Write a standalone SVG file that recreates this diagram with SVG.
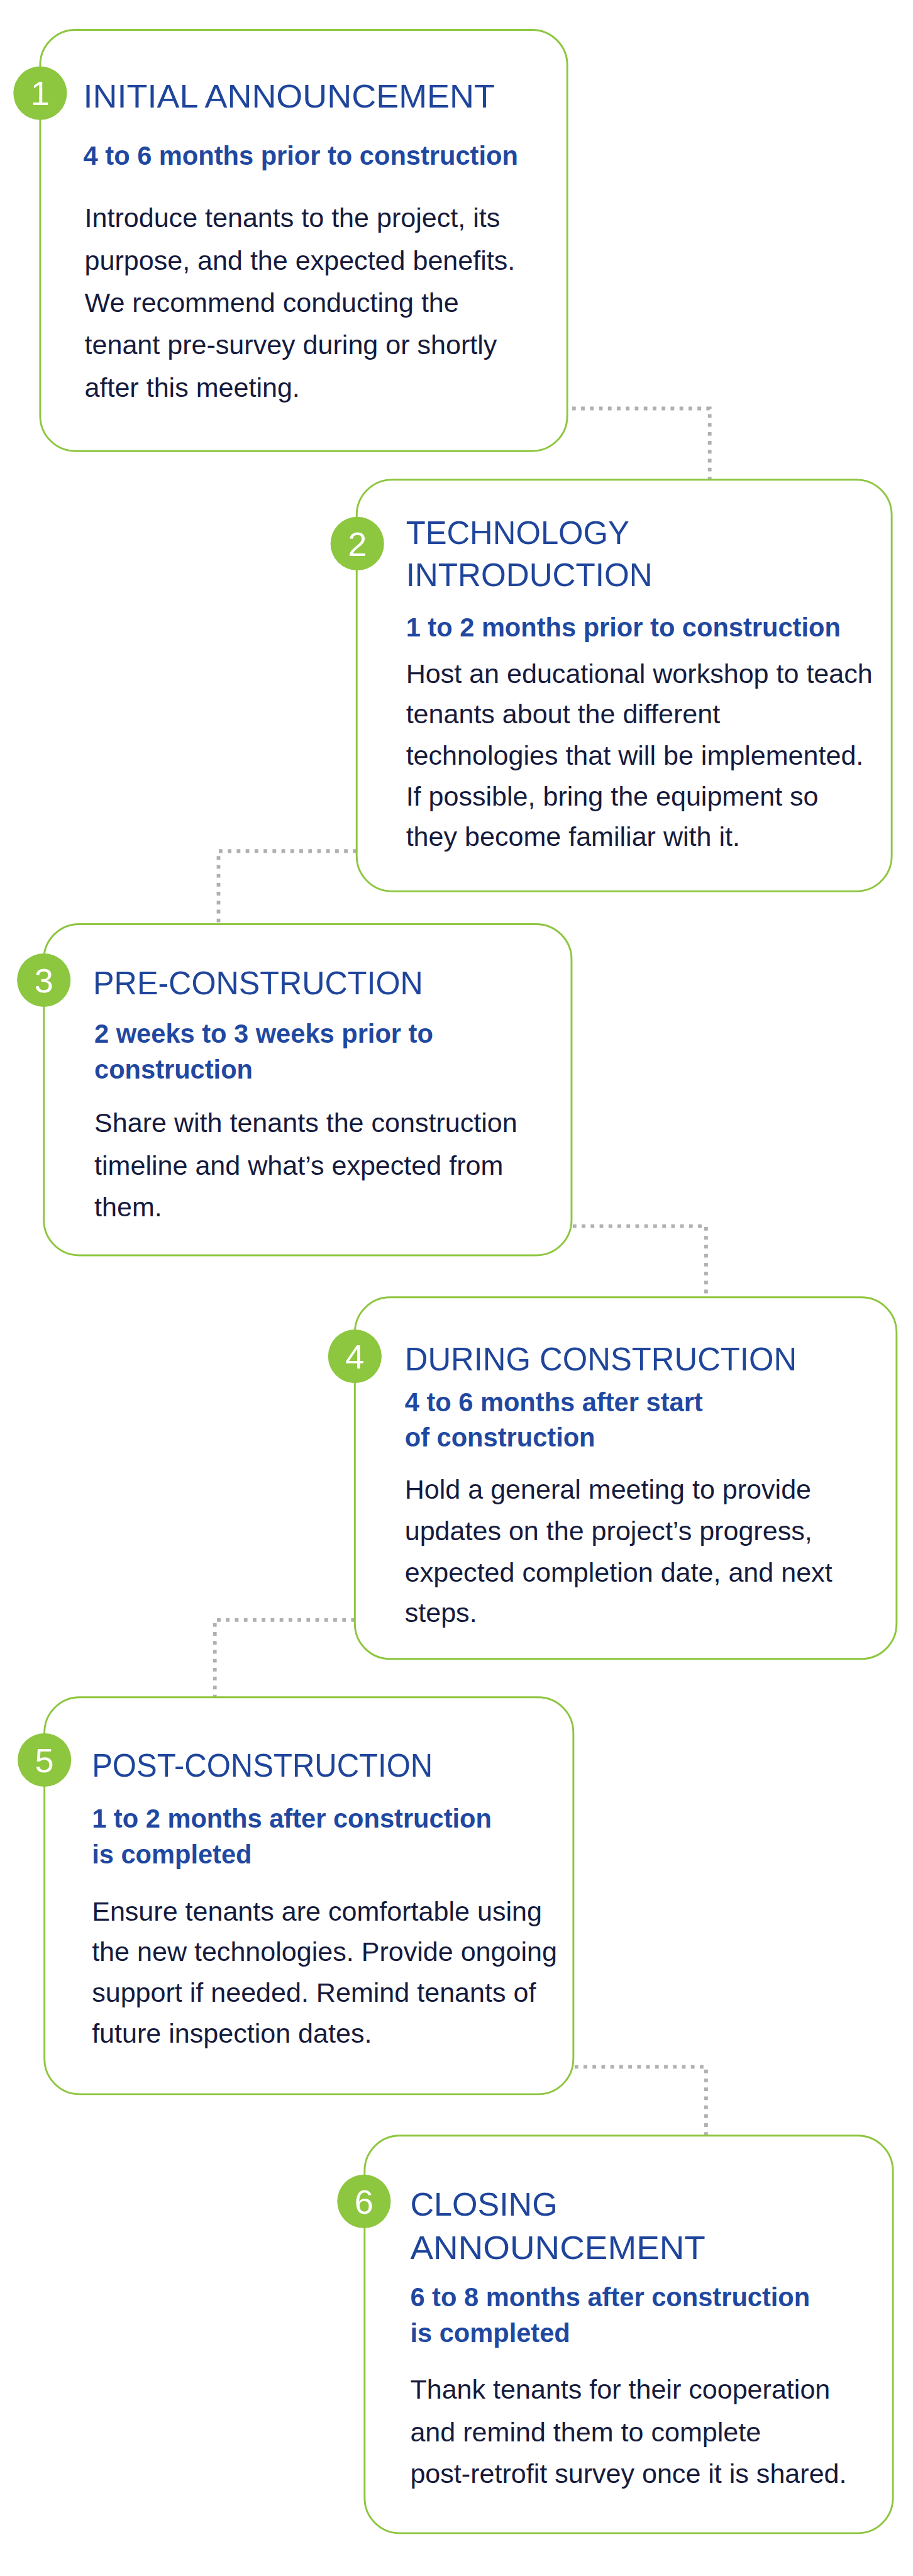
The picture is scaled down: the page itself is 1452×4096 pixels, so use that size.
<svg xmlns="http://www.w3.org/2000/svg" width="1452" height="4096" viewBox="0 0 1452 4096">
<style>
.box{fill:#ffffff;stroke:#8dc63f;stroke-width:3}
.badge{fill:#8dc63f}
.num{font-family:"Liberation Sans",Arial,sans-serif;font-size:56px;fill:#ffffff;text-anchor:middle}
.title{font-family:"Liberation Sans",Arial,sans-serif;font-size:53px;fill:#1f459b}
.sub{font-family:"Liberation Sans",Arial,sans-serif;font-size:43px;font-weight:bold;fill:#2148a0}
.body{font-family:"Liberation Sans",Arial,sans-serif;font-size:44.5px;fill:#161b3d}
.conn{fill:none;stroke:#b0b0b0;stroke-width:6;stroke-dasharray:6 8.7}
</style>
<rect x="0" y="0" width="1452" height="4096" fill="#ffffff"/>
<g transform="scale(0.968)">
<g id="connectors">
<path class="conn" d="M940 671 H1166 V788"/>
<path class="conn" d="M586 1398 H359 V1518"/>
<path class="conn" d="M941 2014 H1160 V2131"/>
<path class="conn" d="M583 2661 H353 V2788"/>
<path class="conn" d="M944 3395 H1160 V3508"/>
</g>
<g id="step1">
<rect class="box" x="66" y="49" width="866" height="692" rx="58"/>
<circle class="badge" cx="66" cy="153" r="44"/>
<text class="num" x="66" y="173">1</text>
<text class="title" x="137" y="177" textLength="676" lengthAdjust="spacingAndGlyphs">INITIAL ANNOUNCEMENT</text>
<text class="sub" x="137" y="271">4 to 6 months prior to construction</text>
<text class="body" x="139" y="373">Introduce tenants to the project, its</text>
<text class="body" x="139" y="443">purpose, and the expected benefits.</text>
<text class="body" x="139" y="512">We recommend conducting the</text>
<text class="body" x="139" y="582">tenant pre-survey during or shortly</text>
<text class="body" x="139" y="652">after this meeting.</text>
</g>
<g id="step2">
<rect class="box" x="586" y="788" width="879" height="676" rx="58"/>
<circle class="badge" cx="587" cy="893" r="44"/>
<text class="num" x="587" y="913">2</text>
<text class="title" x="667" y="894" textLength="367" lengthAdjust="spacingAndGlyphs">TECHNOLOGY</text>
<text class="title" x="667" y="963" textLength="405" lengthAdjust="spacingAndGlyphs">INTRODUCTION</text>
<text class="sub" x="667" y="1045">1 to 2 months prior to construction</text>
<text class="body" x="667" y="1122">Host an educational workshop to teach</text>
<text class="body" x="667" y="1188">tenants about the different</text>
<text class="body" x="667" y="1256">technologies that will be implemented.</text>
<text class="body" x="667" y="1323">If possible, bring the equipment so</text>
<text class="body" x="667" y="1389">they become familiar with it.</text>
</g>
<g id="step3">
<rect class="box" x="72" y="1518" width="867" height="544" rx="58"/>
<circle class="badge" cx="72" cy="1610" r="44"/>
<text class="num" x="72" y="1630">3</text>
<text class="title" x="153" y="1633" textLength="542" lengthAdjust="spacingAndGlyphs">PRE-CONSTRUCTION</text>
<text class="sub" x="155" y="1713">2 weeks to 3 weeks prior to</text>
<text class="sub" x="155" y="1772">construction</text>
<text class="body" x="155" y="1860">Share with tenants the construction</text>
<text class="body" x="155" y="1930">timeline and what’s expected from</text>
<text class="body" x="155" y="1998">them.</text>
</g>
<g id="step4">
<rect class="box" x="583" y="2131" width="890" height="594" rx="58"/>
<circle class="badge" cx="583" cy="2228" r="44"/>
<text class="num" x="583" y="2248">4</text>
<text class="title" x="665" y="2251" textLength="644" lengthAdjust="spacingAndGlyphs">DURING CONSTRUCTION</text>
<text class="sub" x="665" y="2318">4 to 6 months after start</text>
<text class="sub" x="665" y="2376">of construction</text>
<text class="body" x="665" y="2462">Hold a general meeting to provide</text>
<text class="body" x="665" y="2530">updates on the project’s progress,</text>
<text class="body" x="665" y="2598">expected completion date, and next</text>
<text class="body" x="665" y="2664">steps.</text>
</g>
<g id="step5">
<rect class="box" x="73" y="2788" width="869" height="652" rx="58"/>
<circle class="badge" cx="73" cy="2891" r="44"/>
<text class="num" x="73" y="2911">5</text>
<text class="title" x="151" y="2918" textLength="560" lengthAdjust="spacingAndGlyphs">POST-CONSTRUCTION</text>
<text class="sub" x="151" y="3002">1 to 2 months after construction</text>
<text class="sub" x="151" y="3061">is completed</text>
<text class="body" x="151" y="3155">Ensure tenants are comfortable using</text>
<text class="body" x="151" y="3221">the new technologies. Provide ongoing</text>
<text class="body" x="151" y="3288">support if needed. Remind tenants of</text>
<text class="body" x="151" y="3355">future inspection dates.</text>
</g>
<g id="step6">
<rect class="box" x="599" y="3508" width="868" height="653" rx="58"/>
<circle class="badge" cx="598" cy="3616" r="44"/>
<text class="num" x="598" y="3636">6</text>
<text class="title" x="674" y="3639" textLength="242" lengthAdjust="spacingAndGlyphs">CLOSING</text>
<text class="title" x="674" y="3711" textLength="485" lengthAdjust="spacingAndGlyphs">ANNOUNCEMENT</text>
<text class="sub" x="674" y="3788">6 to 8 months after construction</text>
<text class="sub" x="674" y="3847">is completed</text>
<text class="body" x="674" y="3940">Thank tenants for their cooperation</text>
<text class="body" x="674" y="4010">and remind them to complete</text>
<text class="body" x="674" y="4079">post-retrofit survey once it is shared.</text>
</g>
</g>
</svg>
